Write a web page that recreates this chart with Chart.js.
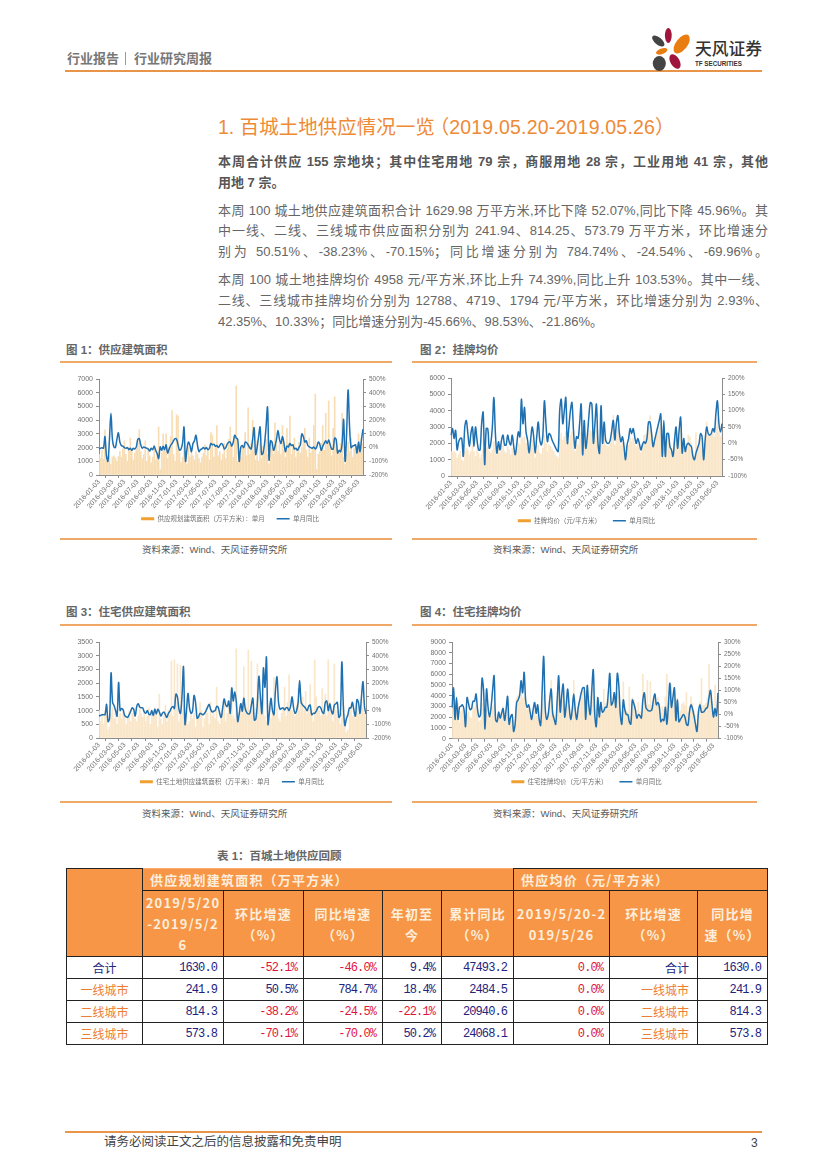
<!DOCTYPE html>
<html>
<head>
<meta charset="utf-8">
<title>百城土地供应</title>
<script src="https://cdn.jsdelivr.net/npm/chart.js@4"></script>
<style>
  html, body { margin: 0; padding: 0; background: #fff; }
  body { position: relative; width: 827px; height: 1170px; overflow: hidden;
    font-family: "Liberation Sans", "Noto Sans CJK SC", sans-serif; color: #666; }
  .t { position: absolute; white-space: nowrap; line-height: 1; }
  .rule { position: absolute; height: 1.5px; background: #F0A868; }
  .p { font-size: 13px; width: 550px; left: 218px; text-align: justify; text-align-last: justify; white-space: normal; }
  .left { text-align-last: left; }
  .b { font-weight: bold; color: #555; }
  .figt { font-size: 11.5px; font-weight: bold; color: #666; }
  .src { font-size: 9.5px; color: #595959; }
  canvas { position: absolute; }
  table { position: absolute; left: 66px; top: 868px; width: 701px; border-collapse: collapse; table-layout: fixed;
    font-family: "Liberation Mono", "Noto Sans CJK SC", monospace; font-size: 12px; letter-spacing: -.9px; }
  td { border: 1.5px solid #222; padding: 0 6px 0 3px; text-align: right; color: #23237d; height: 21px; overflow: hidden; }
  td.h { background: #F79646; color: #fdeedd; text-align: center; font-weight: bold; font-size: 13px; letter-spacing: 1.2px;
    font-family: "Noto Sans CJK SC", sans-serif; line-height: 21px; word-break: break-all; padding: 0 2px; }
  td.hl { text-align: left; padding-left: 7px; }
  td.top { border-top-color: #F9AB70; }
  td.neg { color: #e0143c; }
  td.cn { font-family: "Noto Sans CJK SC", sans-serif; font-size: 12px; letter-spacing: 0; padding-right: 8px; }
  td.city { color: #ed7d31; }
  td.mid { text-align: center; padding: 0; }
</style>
</head>
<body>

<div class="t" style="left:67px;top:52px;font-size:13px;color:#777;font-weight:bold">行业报告</div>
<div style="position:absolute;left:125px;top:52px;width:1px;height:13px;background:#999"></div>
<div class="t" style="left:134px;top:52px;font-size:13px;color:#777;font-weight:bold">行业研究周报</div>
<div class="rule" style="left:65px;top:69.5px;width:697px;height:2px;background:#E8954A"></div>
<svg style="position:absolute;left:648px;top:24px" width="46" height="50" viewBox="648 24 46 50">
  <ellipse cx="668.3" cy="35.5" rx="3.4" ry="7.5" fill="#A0153E"/>
  <ellipse cx="681.7" cy="44" rx="5.8" ry="11" fill="#EA7D12" transform="rotate(38 681.7 44)"/>
  <ellipse cx="658.3" cy="41" rx="3.6" ry="7.5" fill="#444" transform="rotate(-50 658.3 41)"/>
  <ellipse cx="661.7" cy="51.3" rx="2.8" ry="6" fill="#EA7D12" transform="rotate(70 661.7 51.3)"/>
  <ellipse cx="659.3" cy="63.5" rx="6.5" ry="7.5" fill="#444"/>
  <ellipse cx="675" cy="61.5" rx="4.6" ry="8" fill="#A0153E" transform="rotate(-30 675 61.5)"/>
</svg>
<div class="t" style="left:695px;top:42px;font-size:16.8px;color:#333;font-weight:500">天风证券</div>
<div class="t" style="left:695px;top:60px;font-size:8px;color:#333;font-weight:bold;transform:scaleX(.78);transform-origin:left">TF SECURITIES</div>

<div class="t" style="left:218px;top:118px;font-size:19.5px;color:#EE8A36">1. 百城土地供应情况一览<span style="margin-left:-5px">（</span><span style="letter-spacing:.2px">2019.05.20-2019.05.26</span>）</div>

<div class="t p b" style="top:155px">本周合计供应 155 宗地块；其中住宅用地 79 宗，商服用地 28 宗，工业用地 41 宗，其他</div>
<div class="t p b left" style="top:176px">用地 7 宗。</div>
<div class="t p" style="top:204px">本周 100 城土地供应建筑面积合计 1629.98 万平方米,环比下降 52.07%,同比下降 45.96%。其</div>
<div class="t p" style="top:224px">中一线、二线、三线城市供应面积分别为 241.94、814.25、573.79 万平方米，环比增速分</div>
<div class="t p" style="top:245px">别为 50.51%、-38.23%、-70.15%；同比增速分别为 784.74%、-24.54%、-69.96%。</div>
<div class="t p" style="top:273px">本周 100 城土地挂牌均价 4958 元/平方米,环比上升 74.39%,同比上升 103.53%。其中一线、</div>
<div class="t p" style="top:294px">二线、三线城市挂牌均价分别为 12788、4719、1794 元/平方米，环比增速分别为 2.93%、</div>
<div class="t p left" style="top:315px">42.35%、10.33%；同比增速分别为-45.66%、98.53%、-21.86%。</div>

<div class="t figt" style="left:66px;top:344.5px">图 1：供应建筑面积</div>
<div class="rule" style="left:60px;top:361px;width:332px"></div>
<canvas id="c1" width="340" height="162" style="left:60px;top:370px"></canvas>
<div class="rule" style="left:60px;top:538px;width:332px"></div>
<div class="t src" style="left:142px;top:545px">资料来源：Wind、天风证券研究所</div>

<div class="t figt" style="left:420px;top:344.5px">图 2：挂牌均价</div>
<div class="rule" style="left:412px;top:361px;width:345px"></div>
<canvas id="c2" width="353" height="164" style="left:410px;top:370px"></canvas>
<div class="rule" style="left:412px;top:538px;width:345px"></div>
<div class="t src" style="left:493px;top:545px">资料来源：Wind、天风证券研究所</div>

<div class="t figt" style="left:66px;top:607px">图 3：住宅供应建筑面积</div>
<div class="rule" style="left:60px;top:624px;width:332px"></div>
<canvas id="c3" width="344" height="162" style="left:60px;top:633px"></canvas>
<div class="rule" style="left:60px;top:801px;width:332px"></div>
<div class="t src" style="left:142px;top:809px">资料来源：Wind、天风证券研究所</div>

<div class="t figt" style="left:420px;top:607px">图 4：住宅挂牌均价</div>
<div class="rule" style="left:412px;top:624px;width:345px"></div>
<canvas id="c4" width="353" height="162" style="left:410px;top:633px"></canvas>
<div class="rule" style="left:412px;top:801px;width:345px"></div>
<div class="t src" style="left:493px;top:809px">资料来源：Wind、天风证券研究所</div>

<div class="t figt" style="left:217px;top:851px">表 1：百城土地供应回顾</div>

<table>
  <colgroup>
    <col style="width:76px"><col style="width:81px"><col style="width:80px"><col style="width:79px">
    <col style="width:59px"><col style="width:72px"><col style="width:96px"><col style="width:88px"><col style="width:70px">
  </colgroup>
  <tr>
    <td class="h" rowspan="2"></td>
    <td class="h hl top" colspan="5" style="height:21px">供应规划建筑面积（万平方米）</td>
    <td class="h hl" colspan="3">供应均价（元/平方米）</td>
  </tr>
  <tr style="height:66px">
    <td class="h">2019/5/20<br>-2019/5/2<br>6</td>
    <td class="h">环比增速<br>（%）</td>
    <td class="h">同比增速<br>（%）</td>
    <td class="h">年初至<br>今</td>
    <td class="h">累计同比<br>（%）</td>
    <td class="h">2019/5/20-2<br>019/5/26</td>
    <td class="h">环比增速<br>（%）</td>
    <td class="h">同比增<br>速（%）</td>
  </tr>
  <tr>
    <td class="cn mid">合计</td><td>1630.0</td><td class="neg">-52.1%</td><td class="neg">-46.0%</td><td>9.4%</td><td>47493.2</td><td class="neg">0.0%</td><td class="cn">合计</td><td>1630.0</td>
  </tr>
  <tr>
    <td class="cn mid city">一线城市</td><td>241.9</td><td>50.5%</td><td>784.7%</td><td>18.4%</td><td>2484.5</td><td class="neg">0.0%</td><td class="cn city">一线城市</td><td>241.9</td>
  </tr>
  <tr>
    <td class="cn mid city">二线城市</td><td>814.3</td><td class="neg">-38.2%</td><td class="neg">-24.5%</td><td class="neg">-22.1%</td><td>20940.6</td><td class="neg">0.0%</td><td class="cn city">二线城市</td><td>814.3</td>
  </tr>
  <tr>
    <td class="cn mid city">三线城市</td><td>573.8</td><td class="neg">-70.1%</td><td class="neg">-70.0%</td><td>50.2%</td><td>24068.1</td><td class="neg">0.0%</td><td class="cn city">三线城市</td><td>573.8</td>
  </tr>
</table>

<div class="rule" style="left:65px;top:1131px;width:697px;height:2px;background:#E8954A"></div>
<div class="t" style="left:104px;top:1136px;font-size:12.5px;color:#444">请务必阅读正文之后的信息披露和免责申明</div>
<div class="t" style="left:751px;top:1137px;font-size:12px;color:#444">3</div>

<script>
// tick labels on the date axis, every two months
var tickLabels = [
  '2016-01-03','2016-03-03','2016-05-03','2016-07-03','2016-09-03','2016-11-03',
  '2017-01-03','2017-03-03','2017-05-03','2017-07-03','2017-09-03','2017-11-03',
  '2018-01-03','2018-03-03','2018-05-03','2018-07-03','2018-09-03','2018-11-03',
  '2019-01-03','2019-03-03','2019-05-03'
];

// figure 1
var area1 = [
  1500,1200,1800,1150,3300,1000,1100,1400,800,1300,
  1400,1250,1000,1350,1700,1300,1900,2500,1500,1000,
  2000,2700,1800,1100,1600,1900,2300,3300,1700,1200,
  1500,2500,1000,1800,1400,900,1300,2200,1100,1500,
  3500,400,1600,3000,1800,3000,1200,2000,2800,4700,
  1500,1000,4400,4300,1600,900,1300,2100,1700,800,
  2000,1300,1700,1400,1100,1700,1500,1200,900,1300,
  1600,2200,1400,1800,1100,3100,2900,1300,2000,3600,
  1400,1700,1100,1500,2300,1200,1900,2600,3500,2100,
  1300,2800,6500,1000,1700,1300,2200,2000,3100,1400,
  4900,1500,2300,4000,1700,1100,2500,1000,2300,1200,
  2100,1700,2600,1500,800,1900,2400,1500,3800,2200,
  1700,2300,1500,3600,1800,1300,3400,2300,4300,1500,
  2000,2700,1300,1700,2400,1600,2000,2500,3400,1800,
  1300,2700,1600,2000,3600,5900,400,1500,1700,2300,
  3600,1800,4500,2200,5400,2000,1400,3400,5700,2000,
  1500,1700,2300,4500,1300,800,1500,2400,1700,2700,
  1300,1900,2200,1500,3000,1700,2700,2300
];
var yoy1 = [
  -10,-5,-2,-5,80,-60,-100,60,250,60,
  5,0,60,108,40,15,10,0,-5,0,
  -15,-5,-20,-5,-10,5,60,65,20,-5,
  5,0,-5,-10,-25,-5,-15,10,-20,-45,
  -80,5,-20,10,-15,20,-40,-10,15,30,
  50,65,60,20,-20,-10,30,150,-100,-10,
  40,15,-30,30,50,90,20,-30,-15,-10,
  0,-10,0,-15,-5,30,20,25,10,15,
  0,15,30,20,-10,0,25,40,40,10,
  40,90,70,60,-100,0,15,0,40,35,
  20,0,-10,60,145,-50,0,80,150,-50,
  -40,30,150,295,-90,50,40,-20,10,60,
  125,60,30,80,30,-30,10,5,30,15,
  20,-10,-5,-20,0,20,100,80,40,50,
  15,5,0,-5,5,-10,5,40,25,-20,
  10,30,50,30,55,20,-10,-10,70,60,
  -40,-20,-30,30,205,-100,100,420,150,0,
  10,15,20,-40,40,-30,60,135
];

// figure 2
var price2 = [
  1500,1450,1500,1400,1100,1300,1500,1000,900,1500,
  1700,1600,1300,1500,1900,1500,1200,1600,1400,1100,
  1300,1600,1000,1700,1800,1500,1400,1600,2100,1700,
  1300,1700,1400,1800,1900,1500,1400,1800,1600,1300,
  1700,1500,1200,1700,2000,1900,2700,2300,2400,2000,
  1700,1300,1900,2200,1700,1100,1500,1900,1400,1300,
  1700,2500,2000,1500,1900,1800,1600,1500,1300,1200,
  1100,2300,2600,2200,2400,2700,1900,2100,2500,2700,
  2200,1500,2000,1900,2300,2700,1600,2400,1700,2100,
  2600,2800,2700,1900,2400,2800,1900,1600,2700,1900,
  2300,1900,1800,1800,2000,2300,3700,1900,2500,3000,
  2100,1900,2000,1700,1100,1700,1900,2300,2100,2300,
  2000,1800,2000,1700,1400,2000,2500,2500,2600,3000,
  3700,2700,1900,2200,2500,2700,3000,3200,1500,2800,
  1500,2400,2500,1900,1700,1500,2200,2700,1800,2400,
  2900,1500,2200,1600,1800,2500,2400,2000,1500,1200,
  2650,1800,2000,2300,2100,1000,2000,3300,2500,2400,
  2500,2600,2400,3000,3500,2700,2400,2900
];
var yoy2 = [
  25,45,15,40,-20,5,15,15,-40,50,
  70,30,-10,30,50,-10,50,10,-20,-20,
  60,95,-65,45,45,-15,0,50,140,30,
  -30,5,-20,10,25,-5,-5,25,5,-5,
  25,-10,-35,0,35,20,135,60,110,35,
  10,-30,10,50,20,-30,20,65,10,-5,
  25,130,60,5,30,25,10,0,-10,-20,
  -25,100,135,60,100,140,0,50,100,125,
  40,-15,20,15,60,120,-35,70,-15,20,
  80,125,120,0,60,120,0,-30,115,0,
  65,10,0,0,10,40,70,10,60,85,
  30,5,20,-10,-50,-5,15,45,30,45,
  20,0,15,0,-20,-5,5,0,15,65,
  65,30,-10,10,30,50,70,90,-40,70,
  -40,30,30,-10,-20,-40,10,50,-15,40,
  80,-30,15,-25,-5,0,-5,-10,-40,-50,
  -30,-15,0,30,20,-50,10,50,30,25,
  30,45,35,90,130,60,35,60
];

// figure 3
var area3 = [
  1000,600,900,500,1000,800,300,400,900,1100,
  700,1000,500,800,900,700,1000,800,500,700,
  1000,600,900,1100,700,600,800,1200,900,750,
  1000,600,800,1100,500,900,800,1100,1000,400,
  1600,700,500,800,1200,600,1000,900,2800,800,
  2850,1300,2700,600,2650,1000,1200,900,800,500,
  600,1000,700,900,400,1100,800,1300,1000,400,
  700,1100,900,500,1300,800,1000,700,1850,600,
  500,1000,1100,1300,600,900,1200,1500,1800,800,
  700,3250,900,700,1000,1300,2600,1200,1100,3200,
  1000,2800,1000,700,1100,2700,1500,1000,900,1600,
  800,600,1200,1000,700,900,2200,800,1100,700,
  600,900,1100,1850,800,1300,2300,1000,1000,900,
  800,1200,1800,1000,1300,1500,1000,1700,900,1200,
  1950,1000,600,2850,1500,1100,1000,800,1800,1000,
  1600,800,2850,1300,1000,600,2700,1000,800,700,
  500,900,1200,400,200,300,1000,1200,800,1100,
  700,1200,900,1000,1400,1100,900,800
];
var yoy3 = [
  -40,-35,-30,-30,-30,45,-80,-60,275,60,
  35,0,-40,205,0,15,5,-35,-45,-50,
  -30,-5,20,10,-40,30,50,25,20,20,
  -10,-20,0,-25,-30,0,-35,10,-25,10,
  -10,-40,-20,-10,-30,-50,-20,-5,20,30,
  15,120,100,10,-20,100,320,-100,0,125,
  20,-20,-5,110,60,-55,-45,-20,-25,-30,
  -20,0,25,45,10,-10,-5,0,30,25,
  -20,-50,20,85,40,30,70,-20,165,70,
  135,65,-80,-20,50,-5,90,10,-15,-25,
  -20,40,90,-70,-60,60,250,100,-20,310,
  170,390,-100,-10,90,0,-30,150,245,60,
  10,15,20,5,20,20,0,30,100,20,
  -20,0,60,220,60,40,30,15,0,30,
  40,-30,-20,-20,-5,20,30,20,-10,-20,
  60,70,0,50,0,-25,40,50,60,-50,
  -30,355,30,-110,-60,-30,20,20,60,0,
  -40,80,60,-20,100,210,30,-25
];

// figure 4
var price4 = [
  2800,4300,1800,2500,3300,1500,2500,2700,2100,1300,
  2300,2500,2000,1900,3000,2900,3400,2300,1600,1700,
  3300,2800,1100,2700,2200,1800,2100,3000,3200,2000,
  1500,2100,2000,2400,3000,1500,2200,3000,1200,1700,
  1700,1000,1400,3800,4000,3500,5000,3800,3900,3000,
  2700,2700,2200,2000,2400,2600,2100,2600,1800,1200,
  3200,4000,2700,2000,2400,4000,5400,2500,2200,1800,
  3400,4300,2700,3600,4200,2200,3000,4300,3000,2300,
  2600,5400,2800,2200,2900,3300,3900,4400,4300,2300,
  4400,3000,2500,3800,4700,2700,1900,3500,2400,3100,
  2700,4600,3300,3000,3600,4500,3200,3100,3700,3000,
  4300,4000,2700,2500,5300,3000,2600,2500,4800,2100,
  3800,3600,3100,2600,3400,2500,2500,6000,4000,3100,
  5400,3200,5300,3100,3400,3900,3300,3800,3300,2400,
  3000,2700,3900,6000,3300,3300,5100,3700,4600,2500,
  3800,2500,2600,3200,3400,3100,4300,2400,3000,3900,
  3300,2600,2200,1300,2700,3400,5600,3100,3100,3300,
  3800,6900,4400,3500,2700,5000,2700,4200
];
var yoy4 = [
  30,110,-20,70,-20,30,35,40,20,-50,
  70,45,20,25,55,55,85,20,-10,0,
  150,100,-60,105,30,-10,30,100,160,-20,
  -30,10,-15,5,25,-25,20,75,-40,-10,
  0,-70,-40,50,60,80,140,90,175,60,
  30,40,10,-20,20,50,5,40,-20,-45,
  100,240,30,-20,0,60,105,5,-20,-40,
  60,160,10,80,125,-10,40,105,30,-20,
  20,85,20,-20,30,60,90,110,110,-20,
  120,40,0,100,185,0,-50,70,-10,50,
  10,15,30,30,90,170,40,50,90,30,
  170,120,0,-40,60,20,0,0,-30,-40,
  60,45,20,-15,0,-5,-15,60,90,30,
  20,15,15,20,60,85,40,50,30,-30,
  -20,-25,30,-40,40,130,30,70,110,-25,
  60,-30,-20,-10,0,-10,-40,-45,10,40,
  25,-5,-40,-70,10,40,10,10,15,25,
  30,70,100,40,-10,25,-5,90
];

// weekly categories from 2016-01-03
var weeks = [];
var start = Date.UTC(2016, 0, 3);
for (var i = 0; i < area1.length; i++) {
  weeks.push(new Date(start + i * 7 * 86400000).toISOString().slice(0, 10));
}
// where the two-month labels fall on the weekly axis
var tickIdx = tickLabels.map(function (d) {
  return Math.round((Date.parse(d) - start) / (7 * 86400000));
});

var axisColor = '#8c8c8c';
var textColor = '#707070';

function drawChart(id, barName, bars, line, cfg) {
  return new Chart(document.getElementById(id), {
    type: 'bar',
    data: {
      labels: weeks,
      datasets: [
        { type: 'line', label: '单月同比', data: line, yAxisID: 'y1', borderColor: '#1F70B0', borderWidth: 1.5,
          pointRadius: 0, tension: 0.35, order: 0 },
        { type: 'bar', label: barName, data: bars, yAxisID: 'y', backgroundColor: cfg.barColor,
          barThickness: 1, order: 1 }
      ]
    },
    options: {
      responsive: false,
      animation: false,
      layout: { padding: { top: cfg.top, right: 0, left: 0, bottom: 0 } },
      plugins: {
        tooltip: { enabled: false },
        legend: {
          position: 'bottom',
          labels: {
            font: { size: 6.5, family: '"Liberation Sans", "Noto Sans CJK SC"' },
            color: textColor,
            usePointStyle: true,
            pointStyleWidth: 13,
            padding: 12,
            generateLabels: function (c) {
              return [
                { text: barName, pointStyle: 'line', strokeStyle: '#F0A030', lineWidth: 3, fontColor: textColor, datasetIndex: 1 },
                { text: '单月同比', pointStyle: 'line', strokeStyle: '#1F70B0', lineWidth: 1.5, fontColor: textColor, datasetIndex: 0 }
              ];
            }
          }
        }
      },
      scales: {
        x: {
          offset: false,
          grid: { drawOnChartArea: false, color: axisColor, tickLength: 3 },
          border: { color: axisColor },
          ticks: {
            autoSkip: false, minRotation: 48, maxRotation: 48, padding: 0,
            color: textColor, font: { size: 7 },
            callback: function (v, n) { return tickLabels[n]; }
          },
          afterBuildTicks: function (s) {
            s.ticks = tickIdx.map(function (v) { return { value: v }; });
            // labels run past the fixed axis height, don't clip them
            s._computeLabelArea = function () {};
          },
          afterFit: function (s) { s.height = cfg.xh; }
        },
        y: {
          position: 'left', min: 0, max: cfg.leftMax,
          grid: { drawOnChartArea: false, color: axisColor, tickLength: 3 },
          border: { color: axisColor },
          ticks: { stepSize: cfg.leftStep, autoSkip: false, color: textColor, font: { size: 7 }, padding: 3,
            callback: function (v) { return String(v); } },
          afterFit: function (s) { s.width = cfg.lw; }
        },
        y1: {
          position: 'right', min: cfg.rightMin, max: cfg.rightMax,
          grid: { drawOnChartArea: false, color: axisColor, tickLength: 3 },
          border: { color: axisColor },
          ticks: { stepSize: cfg.rightStep, autoSkip: false, color: textColor, font: { size: 6.5 }, padding: 3,
            callback: function (v) { return v + '%'; } },
          afterFit: function (s) { s.width = cfg.rw; }
        }
      }
    }
  });
}

drawChart('c1', '供应规划建筑面积（万平方米）：单月', area1, yoy1,
  { top: 9, lw: 39, rw: 37, xh: 28.5, leftMax: 7000, leftStep: 1000, rightMin: -200, rightMax: 500, rightStep: 100, barColor: '#F8DDB4' });
drawChart('c2', '挂牌均价（元/平方米）', price2, yoy2,
  { top: 8, lw: 41, rw: 41, xh: 29.5, leftMax: 6000, leftStep: 1000, rightMin: -100, rightMax: 200, rightStep: 50, barColor: '#FAE6C8' });
drawChart('c3', '住宅土地供应建筑面积（万平米）：单月', area3, yoy3,
  { top: 9, lw: 39, rw: 38, xh: 28.5, leftMax: 3500, leftStep: 500, rightMin: -200, rightMax: 500, rightStep: 100, barColor: '#FAE6C8' });
drawChart('c4', '住宅挂牌均价（元/平方米）', price4, yoy4,
  { top: 9, lw: 42, rw: 45, xh: 27.8, leftMax: 9000, leftStep: 1000, rightMin: -100, rightMax: 300, rightStep: 50, barColor: '#FAE6C8' });
</script>
</body>
</html>
